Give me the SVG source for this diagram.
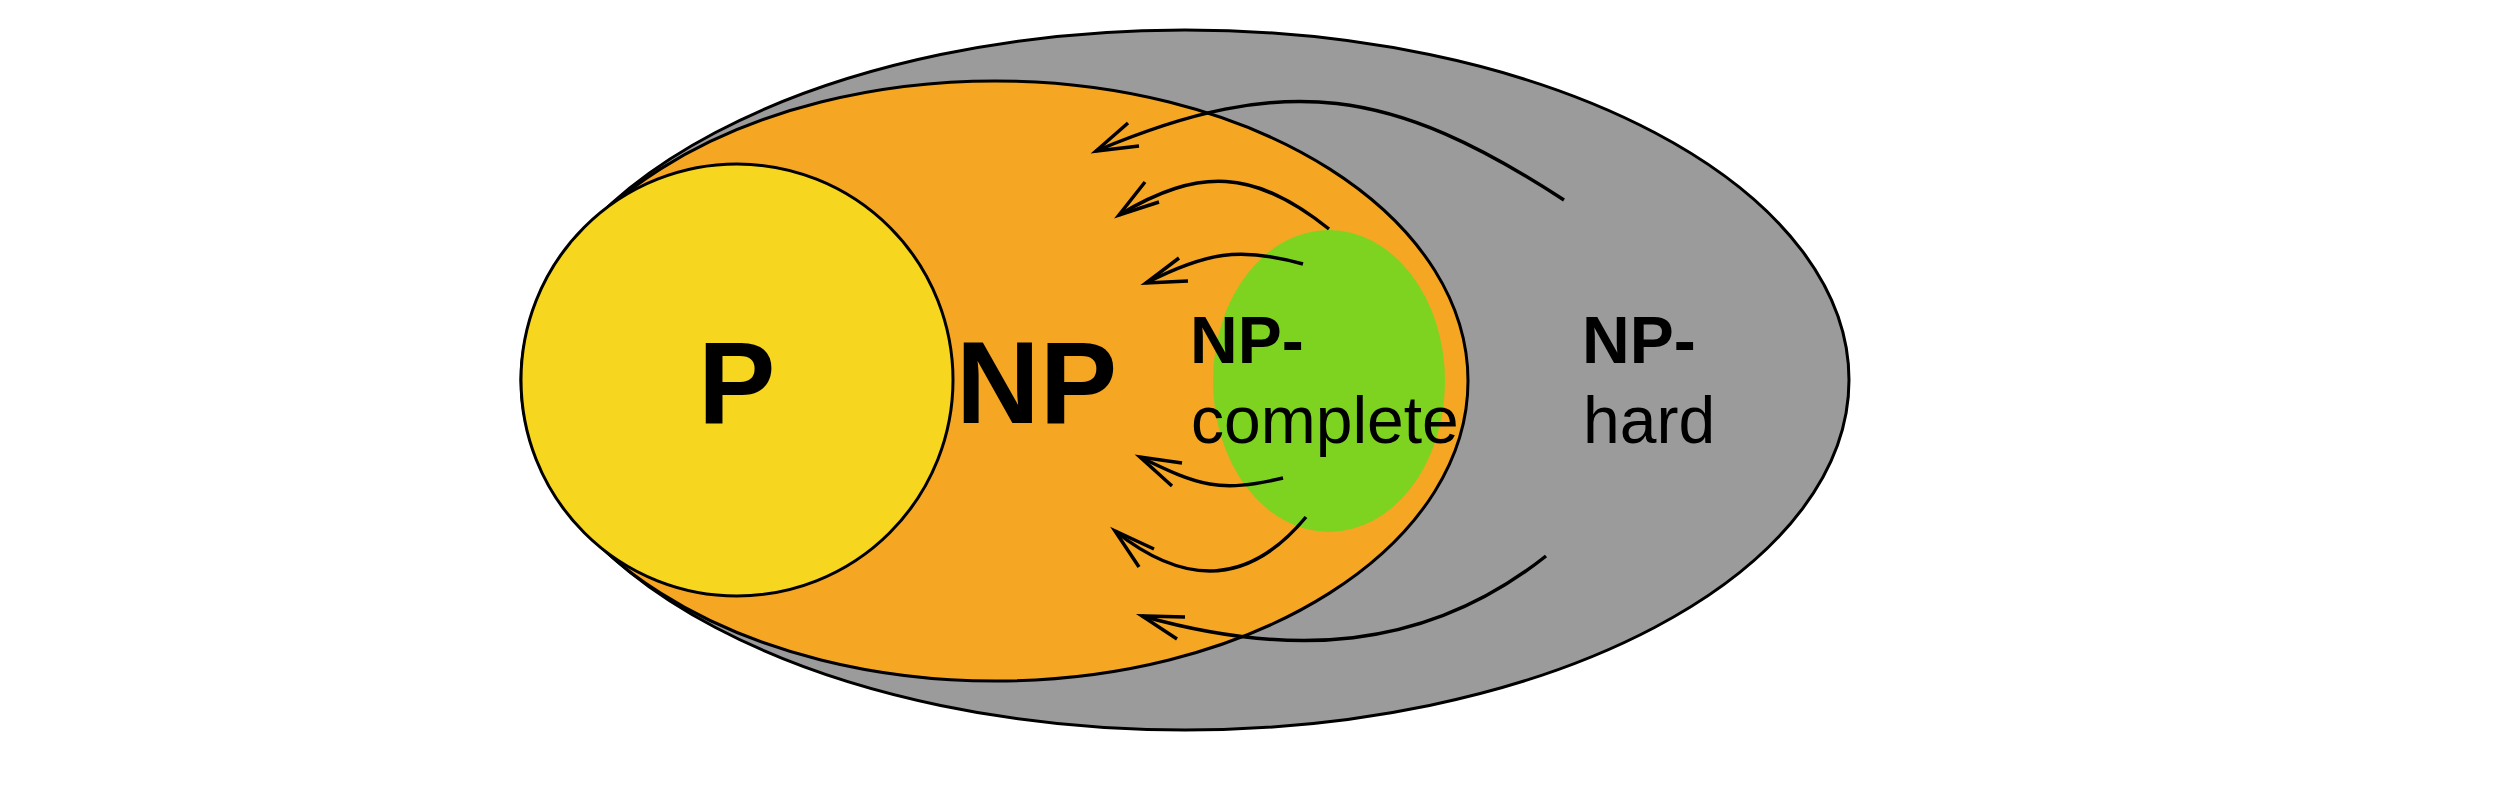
<svg xmlns="http://www.w3.org/2000/svg" width="2500" height="793" viewBox="0 0 2500 793">
<style>
.outline{stroke:#000;stroke-width:3}
.conn{fill:none;stroke:#000;stroke-width:3.5;stroke-linecap:butt;stroke-linejoin:miter}
.big{font-family:"Liberation Sans",Arial,sans-serif;font-weight:bold;font-size:116px;fill:#000}
.lbl{font-family:"Liberation Sans",Arial,sans-serif;font-size:66px;fill:#000}
.b{font-weight:bold}
</style>
<rect width="2500" height="793" fill="#fff"/>
<g id="np-hard">
<ellipse cx="1185" cy="380" rx="664" ry="350" fill="#9b9b9b" class="outline"/>
</g>
<g id="np">
<ellipse cx="995" cy="381" rx="473" ry="300" fill="#f5a623" class="outline"/>
</g>
<g id="p">
<circle cx="737" cy="380" r="216" fill="#f6d61e" class="outline"/>
<text class="big" x="698" y="423">P</text>
</g>
<g id="np-complete">
<ellipse cx="1329" cy="381" rx="116" ry="151" fill="#7ed321"/>
</g>
<text class="big" x="956" y="423">NP</text>
<g id="np-complete-label">
<text class="lbl b" x="1190" y="363">NP-</text>
<text class="lbl" x="1191" y="443">complete</text>
</g>
<g id="np-hard-label">
<text class="lbl b" x="1582" y="363">NP-</text>
<text class="lbl" x="1583" y="443">hard</text>
</g>
<g id="connectors">
<path class="conn" d="M1564,200 C1392,88 1286,71 1096,151"/>
<path class="conn" d="M1128,123 L1096,151 L1139,146"/>
<path class="conn" d="M1329,229 C1254,169 1199,167 1119,215"/>
<path class="conn" d="M1145,182 L1119,215 L1159,202"/>
<path class="conn" d="M1303,264 C1239,246 1205,253 1146,283"/>
<path class="conn" d="M1179,258 L1146,283 L1188,281"/>
<path class="conn" d="M1283,478 C1219,493 1199,486 1140,457"/>
<path class="conn" d="M1182,463 L1140,457 L1172,486"/>
<path class="conn" d="M1306,517 C1248,587 1184,586 1115,531"/>
<path class="conn" d="M1154,549 L1115,531 L1139,567"/>
<path class="conn" d="M1546,556 C1424,653 1288,657 1142,616"/>
<path class="conn" d="M1185,617 L1142,616 L1177,639"/>
</g>
</svg>
